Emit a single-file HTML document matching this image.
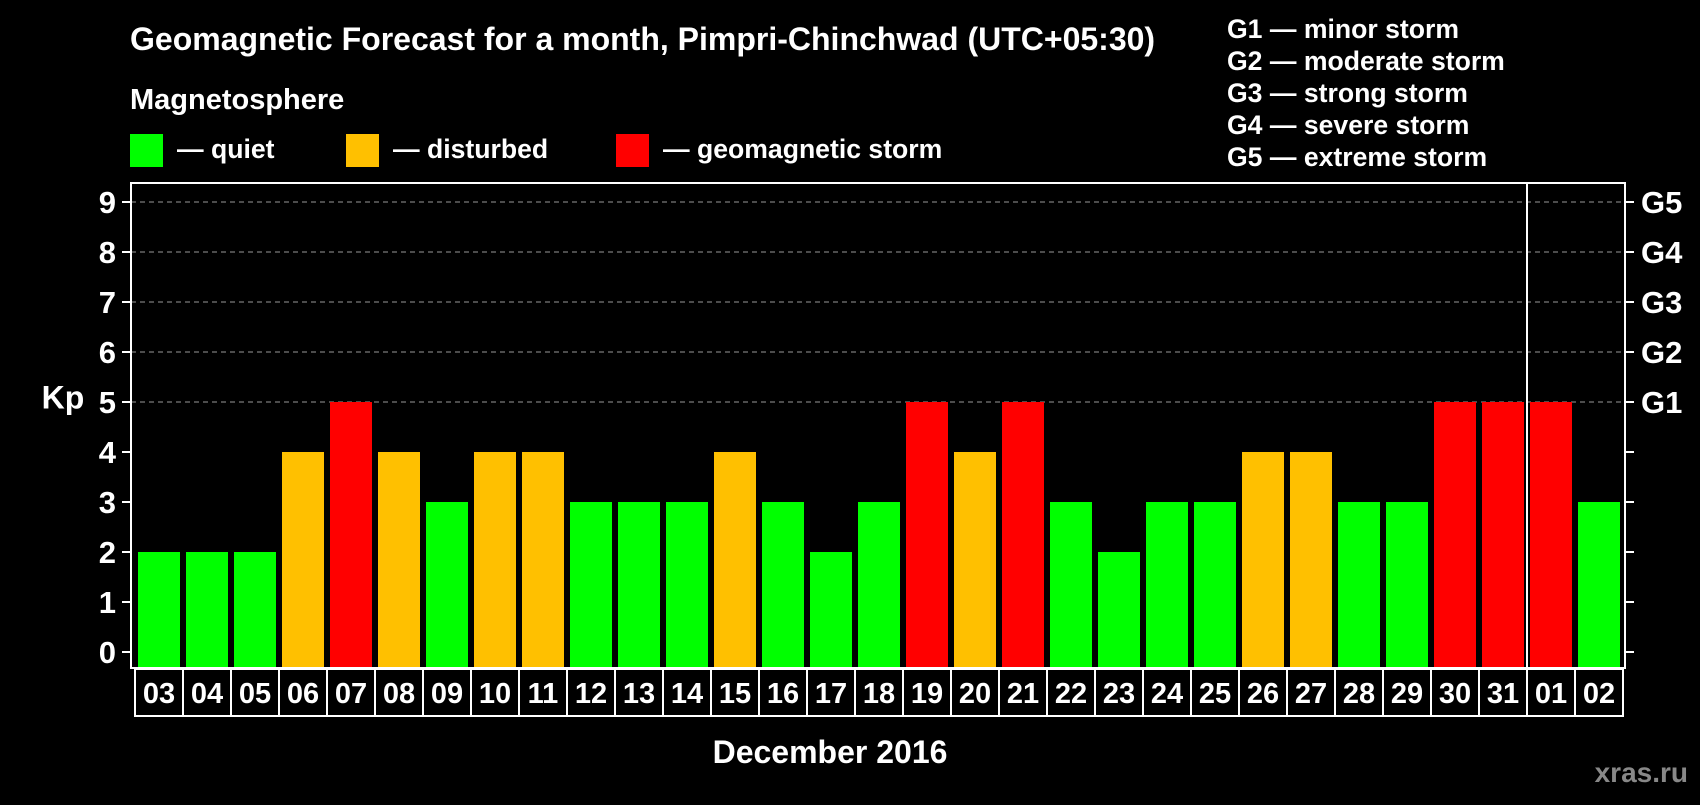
<!DOCTYPE html>
<html><head><meta charset="utf-8"><style>
body{margin:0;background:#000;width:1700px;height:800px;overflow:hidden;font-family:"Liberation Sans",Arial,sans-serif;font-weight:bold;color:#fff}
svg text{font-family:"Liberation Sans",Arial,sans-serif;font-weight:bold;fill:#fff}
</style></head><body>
<svg id="c" width="1700" height="800" xmlns="http://www.w3.org/2000/svg">
<text x="130" y="50" font-size="32">Geomagnetic Forecast for a month, Pimpri-Chinchwad (UTC+05:30)</text>
<text x="130" y="109" font-size="29">Magnetosphere</text>
<rect x="130" y="134" width="33" height="33" fill="#00ff00"/>
<text x="177" y="158" font-size="26.6">— quiet</text>
<rect x="346" y="134" width="33" height="33" fill="#ffc000"/>
<text x="393" y="158" font-size="26.6">— disturbed</text>
<rect x="616" y="134" width="33" height="33" fill="#ff0000"/>
<text x="663" y="158" font-size="26.6">— geomagnetic storm</text>
<g font-size="26.6">
<text x="1227" y="38">G1 — minor storm</text>
<text x="1227" y="70">G2 — moderate storm</text>
<text x="1227" y="102">G3 — strong storm</text>
<text x="1227" y="134">G4 — severe storm</text>
<text x="1227" y="166">G5 — extreme storm</text>
</g>
<g id="plot"></g>
<text x="63" y="400" font-size="32" text-anchor="middle" dominant-baseline="middle">Kp</text>
<text x="830" y="763" font-size="32" text-anchor="middle">December 2016</text>
<text x="1688" y="782" font-size="28" text-anchor="end" style="fill:#888">xras.ru</text>
</svg>
<script>
const days=["03","04","05","06","07","08","09","10","11","12","13","14","15","16","17","18","19","20","21","22","23","24","25","26","27","28","29","30","31","01","02"];
const kp=[2,2,2,4,5,4,3,4,4,3,3,3,4,3,2,3,5,4,5,3,2,3,3,4,4,3,3,5,5,5,3];
const gLabels=["G1","G2","G3","G4","G5"];
const NS="http://www.w3.org/2000/svg";
const g=document.getElementById('plot');
const L=131,R=1625,T=183,B=668,x0=135,slot=48;
const y=v=>652-v*50;
const xs=i=>x0+i*slot;
function mk(t,a){const e=document.createElementNS(NS,t);for(const k in a)e.setAttribute(k,a[k]);g.appendChild(e);return e;}
for(let v=5;v<=9;v++){const e=mk('line',{x1:L,x2:R,y1:y(v),y2:y(v),stroke:'#999','stroke-dasharray':'5,4','stroke-width':1});

}
kp.forEach((v,i)=>{const c=v>=5?'#ff0000':v==4?'#ffc000':'#00ff00';
const r=mk('rect',{x:xs(i)+3,y:y(v),width:42,height:B-y(v),fill:c});


const b=mk('rect',{x:xs(i),y:669,width:slot,height:47,fill:'none',stroke:'#fff','stroke-width':2});


const t=mk('text',{x:xs(i)+slot/2,y:703,'font-size':29,'text-anchor':'middle'});t.textContent=days[i];

});
const fr=mk('rect',{x:L,y:T,width:R-L,height:B-T,fill:'none',stroke:'#fff','stroke-width':2});


const dv=mk('line',{x1:xs(29),x2:xs(29),y1:T,y2:B,stroke:'#fff','stroke-width':2});


for(let v=0;v<=9;v++){
const a=mk('line',{x1:122,x2:L,y1:y(v),y2:y(v),stroke:'#fff','stroke-width':2});


const b=mk('line',{x1:R,x2:1634,y1:y(v),y2:y(v),stroke:'#fff','stroke-width':2});


const t=mk('text',{x:116,y:y(v)+11,'font-size':31,'text-anchor':'end'});t.textContent=v;


if(v>=5){const u=mk('text',{x:1641,y:y(v)+11,'font-size':31});u.textContent=gLabels[v-5];

}}
</script>
</body></html>
